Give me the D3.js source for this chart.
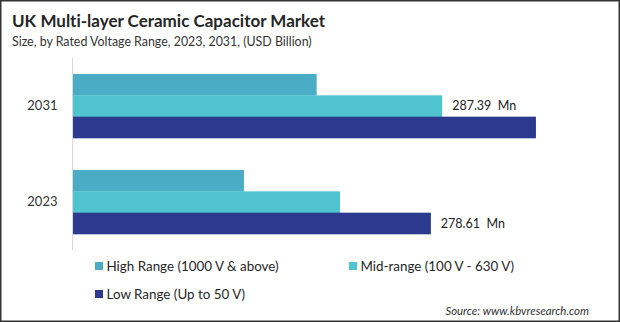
<!DOCTYPE html>
<html>
<head>
<meta charset="utf-8">
<script src="https://cdn.jsdelivr.net/npm/d3@7"></script>
<style>
  body { margin: 0; background: #fff; }
  svg { display: block; font-family: Lato, "Open Sans", sans-serif; font-variant-ligatures: none; }
</style>
</head>
<body>
<svg id="chart"></svg>
<script>
// years on the category axis, top to bottom
var years = ["2031", "2023"];
var seriesNames = ["High Range (1000 V & above)", "Mid-range (100 V - 630 V)", "Low Range (Up to 50 V)"];
var seriesColors = ["#4bacc6", "#4fc4cf", "#2b3a8f"];
// values in USD Mn, per year
var highRange = [189.7, 133.1];
var midRange = [287.39, 207.9];
var lowRange = [360.4, 278.61];
// value labels: [year, series index, text]
var valueLabels = [["2031", 1, "287.39  Mn"], ["2023", 2, "278.61  Mn"]];

var width = 620, height = 322;
var svg = d3.select("#chart").attr("width", width).attr("height", height);

svg.append("rect")
  .attr("x", 0.75).attr("y", 0.75)
  .attr("width", width - 1.5).attr("height", height - 1.5)
  .attr("fill", "#fff").attr("stroke", "#333").attr("stroke-width", 1.5);

svg.append("text")
  .attr("x", 12).attr("y", 27)
  .attr("font-size", 17).attr("font-weight", "bold").attr("fill", "#262626")
  .text("UK Multi-layer Ceramic Capacitor Market");

svg.append("text")
  .attr("x", 12).attr("y", 46)
  .attr("font-size", 12.4).attr("fill", "#333")
  .text("Size, by Rated Voltage Range, 2023, 2031, (USD Billion)");

var data = years.map(function(y, i) {
  return { year: y, values: [highRange[i], midRange[i], lowRange[i]] };
});

var x = d3.scaleLinear().domain([0, 400]).range([73, 73 + 400 * 1.2845]);
var y = d3.scaleBand().domain(years).range([58, 250]).paddingInner(1 / 3).paddingOuter(1 / 6);
var ySub = d3.scaleBand().domain(d3.range(seriesNames.length)).range([0, y.bandwidth()]);

var groups = svg.selectAll(".year")
  .data(data)
  .enter().append("g")
    .attr("class", "year")
    .attr("transform", function(d) { return "translate(0," + y(d.year) + ")"; });

groups.selectAll("rect")
  .data(function(d) { return d.values; })
  .enter().append("rect")
    .attr("x", x(0))
    .attr("y", function(d, i) { return ySub(i); })
    .attr("width", function(d) { return x(d) - x(0); })
    .attr("height", ySub.bandwidth() + 0.3)
    .attr("fill", function(d, i) { return seriesColors[i]; });

// category axis: line plus year labels
var yAxis = svg.append("g")
  .attr("transform", "translate(" + (x(0) - 0.5) + ",0)")
  .call(d3.axisLeft(y).tickSize(0).tickPadding(15));
yAxis.select(".domain").attr("stroke", "#d9d9d9").attr("d", "M0,58V250");
yAxis.selectAll("text").attr("font-size", 13).attr("fill", "#333")
  .attr("font-family", "Lato, 'Open Sans', sans-serif");

valueLabels.forEach(function(l) {
  var idx = years.indexOf(l[0]);
  var v = data[idx].values[l[1]];
  svg.append("text")
    .attr("x", x(v) + 10)
    .attr("y", y(l[0]) + ySub(l[1]) + ySub.bandwidth() / 2)
    .attr("dy", "0.35em")
    .attr("font-size", 12.5).attr("fill", "#222")
    .style("white-space", "pre")
    .text(l[2]);
});

// legend
var legendPos = [[95, 266], [349, 266], [95, 294]];
var legend = svg.selectAll(".legend")
  .data(seriesNames)
  .enter().append("g")
    .attr("class", "legend")
    .attr("transform", function(d, i) { return "translate(" + legendPos[i][0] + "," + legendPos[i][1] + ")"; });
legend.append("rect")
  .attr("x", 0).attr("y", -4).attr("width", 8).attr("height", 8)
  .attr("fill", function(d, i) { return seriesColors[i]; });
legend.append("text")
  .attr("x", 11.5).attr("dy", "0.35em")
  .attr("font-size", 13.4).attr("fill", "#262626")
  .text(function(d) { return d; });

svg.append("text")
  .attr("x", 589).attr("y", 315)
  .attr("text-anchor", "end")
  .attr("font-size", 11.4).attr("font-style", "italic").attr("fill", "#333")
  .text("Source: www.kbvresearch.com");
</script>
</body>
</html>
